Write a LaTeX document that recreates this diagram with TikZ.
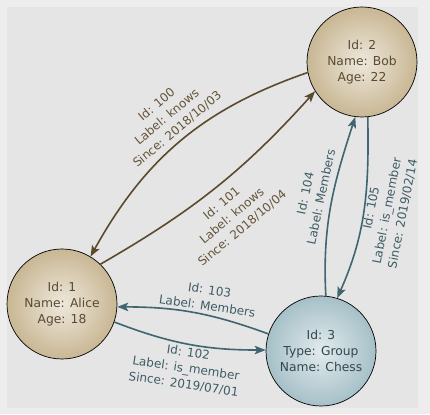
\documentclass[tikz,border=0pt]{standalone}
\usepackage{fontspec}
\setmainfont{DejaVu Sans}
\usetikzlibrary{arrows.meta,shadings}
\definecolor{bgout}{HTML}{EDEDED}
\definecolor{bgin}{HTML}{E5E5E5}
\definecolor{brownedge}{HTML}{5C4A2C}
\definecolor{tealedge}{HTML}{3F6571}
\definecolor{browntext}{HTML}{5A4A32}
\definecolor{brownlab}{HTML}{66553A}
\definecolor{teallab}{HTML}{3E5C66}
\definecolor{chesstext}{HTML}{33474F}
\definecolor{persin}{HTML}{EDE8DC}
\definecolor{persout}{HTML}{C9B794}
\definecolor{grpin}{HTML}{E2EBED}
\definecolor{grpout}{HTML}{A6C0C8}
\tikzset{
  vtx/.style={circle, draw=black, line width=0.7pt, minimum size=110pt, inner sep=0pt,
    align=center, font=\fontsize{12.3}{16}\selectfont, shading=radial},
  person/.style={vtx, inner color=persin, outer color=persout, text=browntext},
  group/.style={vtx, inner color=grpin, outer color=grpout, text=chesstext},
  edgelab/.style={align=center, font=\fontsize{12}{16}\selectfont, inner sep=0pt},
  arr/.style={line width=1.6pt, -{Stealth[length=11pt,width=8.5pt,inset=2.5pt]}},
  knows/.style={arr, draw=brownedge},
  memb/.style={arr, draw=tealedge},
}
\begin{document}
\begin{tikzpicture}[x=1pt,y=1pt]
\fill[bgout] (0,0) rectangle (430,414);
\fill[bgin] (7,6) rectangle (418,407);
\useasboundingbox (0,0) rectangle (430,414);

\node[person] (alice) at (62,110) {Id: 1\\Name: Alice\\Age: 18};
\node[person] (bob) at (362,352) {Id: 2\\Name: Bob\\Age: 22};
\node[group] (chess) at (321,63) {Id: 3\\Type: Group\\Name: Chess};

\draw[knows] (bob.191) to[out=199, in=61] (alice.59);
\draw[knows] (alice.46) to[out=30, in=228] (bob.212);
\draw[memb] (chess.85) to[out=93, in=252] (bob.263);
\draw[memb] (bob.276) to[out=271, in=66] (chess.73);
\draw[memb] (chess.162) to[out=160, in=0] (alice.357);
\draw[memb] (alice.341) to[out=-21, in=180] (chess.179);

\node[edgelab, text=brownlab, rotate=40] (l100) at (167,297) {Id: 100\\Label: knows\\Since: 2018/10/03};
\node[edgelab, text=brownlab, rotate=40] (l101) at (232,198) {Id: 101\\Label: knows\\Since: 2018/10/04};
\node[edgelab, text=teallab, rotate=78] (l104) at (313,219) {Id: 104\\Label: Members};
\node[edgelab, text=teallab, rotate=79] (l105) at (387,203) {Id: 105\\Label: is\_member\\Since: 2019/02/14};
\node[edgelab, text=teallab, rotate=-8.5] (l103) at (208.5,116) {Id: 103\\Label: Members};
\node[edgelab, text=teallab, rotate=-8.5] (l102) at (186,45.5) {Id: 102\\Label: is\_member\\Since: 2019/07/01};
\end{tikzpicture}
\end{document}
